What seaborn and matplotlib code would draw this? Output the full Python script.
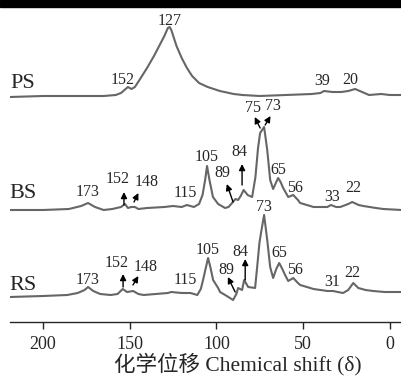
import numpy as np
import pandas as pd
import matplotlib
matplotlib.use("Agg")
import matplotlib.pyplot as plt
import seaborn as sns
from matplotlib.patches import Rectangle

# --- spectra (ppm, intensity above each baseline) ---
ps_ppm = [219, 200, 180, 165, 158, 155, 151, 149, 147, 144, 140, 136, 133, 130, 128,
          127, 126, 123, 120, 117, 114, 110, 105, 98, 90, 85, 75, 60, 45, 40, 38, 33, 28,
          24, 20, 16, 12, 5, 0, -7]
ps_int = [-1, 0, 0, 0, 1, 3, 9, 7, 9, 17, 28, 40, 50, 60, 68,
          69, 66, 50, 38, 28, 20, 13, 9, 5, 2, 1, 0, 1, 2, 3, 5, 4, 4,
          5, 7, 4, 1, 2, 1, 1]

bs_ppm = [219, 200, 185, 178, 174, 170, 165, 160, 155, 152.7, 151, 149, 147, 145, 140,
          130, 125, 120, 117, 113, 110, 108, 106.5, 105.4, 104, 102, 99, 95, 93, 90,
          89, 87.5, 86, 84.3, 82, 79.4, 77.5, 76, 74.8, 72.5, 70.7, 69, 67.3, 65.5,
          64.4, 63, 61.5, 58.6, 55.7, 53, 51.7, 44, 36, 34, 31, 28.6, 24, 21.7, 18,
          15.3, 8, 3.8, -7]
bs_int = [0, 0, 1, 4, 7, 3, 0, 1, 3, 6, 2, 3, 3, 1, 2,
          3, 4, 3, 5, 3, 6, 15, 30, 44, 30, 13, 6, 2, 3, 9,
          11, 10, 14, 20, 15, 13, 33, 62, 77, 83, 60, 30, 21, 28,
          32, 28, 22, 13, 15, 10, 7, 3, 3, 5, 3, 3, 6, 8, 5,
          4, 2, 1, 0]

rs_ppm = [219, 200, 186, 180, 176, 174, 171, 167, 161, 157, 154, 151.5, 148, 145, 142,
          135, 128, 126, 120, 115, 111, 109, 107.7, 106, 104.8, 103.5, 101.9, 99, 97.9,
          94, 90.4, 88.5, 87.5, 85.2, 84, 81.7, 77.7, 76.5, 75.2, 74.2, 72.5, 70.7, 69,
          67.3, 65.5, 63.8, 62, 60.4, 58.6, 55.7, 53, 51.7, 44, 36, 32.7, 30, 27, 24,
          21.1, 18.2, 14, 9.6, 3, -7]
rs_int = [0, 1, 2, 4, 7, 10, 6, 3, 2, 3, 8, 5, 6, 3, 2,
          3, 4, 5, 4, 4, 2, 8, 17, 30, 39, 30, 17, 9, 5,
          1, -3, 3, 9, 7, 17, 10, 9, 30, 54, 65, 82, 57, 30,
          19, 28, 34, 28, 22, 16, 19, 14, 12, 8, 6, 6, 5, 4, 7,
          14, 9, 7, 6, 5, 5]

samples = ["PS", "BS", "RS"]
offsets = [226, 112, 25]

# peak labels: (text, ppm, y)
ps_labels = [("127", 126.7, 301), ("152", 153.8, 242), ("39", 39.0, 241), ("20", 22.9, 242)]
bs_labels = [("173", 174.0, 130), ("152", 156.7, 143), ("148", 140.0, 140), ("115", 118.1, 129),
             ("105", 105.9, 165), ("89", 96.7, 149), ("84", 86.9, 170), ("75", 78.8, 214),
             ("73", 67.3, 216), ("65", 64.4, 152), ("56", 54.6, 134), ("33", 33.2, 125),
             ("22", 21.1, 134)]
rs_labels = [("173", 174.0, 42), ("152", 157.3, 59), ("148", 140.6, 55), ("115", 118.1, 42),
             ("105", 104.8, 72), ("89", 94.4, 52), ("84", 86.3, 70), ("73", 72.5, 115),
             ("65", 63.8, 69), ("56", 54.6, 52), ("31", 33.2, 40), ("22", 21.7, 49)]

# arrows: (tail ppm, tail y, head ppm, head y)
arrows = [(153.3, 117, 153.3, 130), (147.5, 120, 145.0, 129), (90.4, 120, 94.0, 138),
          (85.2, 137, 85.2, 158), (74.8, 194, 77.9, 205), (71.9, 197, 68.8, 206),
          (153.8, 35, 153.8, 48), (148.1, 37, 145.0, 46), (89.2, 30, 93.4, 45),
          (83.4, 42, 83.4, 63)]

sns.set_style("ticks")
plt.rcParams['font.family'] = ['Liberation Serif', 'Noto Sans CJK SC']

fig = plt.figure(figsize=(4.02, 3.76), dpi=100)
ax = fig.add_axes([10 / 402, 54 / 376, 392 / 402, 317 / 376])

traces = [(ps_ppm, ps_int), (bs_ppm, bs_int), (rs_ppm, rs_int)]
for (xs, ys), off in zip(traces, offsets):
    df = pd.DataFrame({"ppm": xs, "y": np.array(ys) + off})
    sns.lineplot(data=df, x="ppm", y="y", ax=ax, color="#666666", lw=1.5, sort=False)

for lab, yoff in zip(samples, [238, 128, 36]):
    ax.text(211.5, yoff, lab, fontsize=16, ha="center", va="center")

for txt, x, y in ps_labels + bs_labels + rs_labels:
    ax.text(x, y, txt, fontsize=11.5, ha="center", va="center")

for x0, y0, x1, y1 in arrows:
    ax.annotate("", xy=(x1, y1), xytext=(x0, y0),
                arrowprops=dict(arrowstyle="-|>", color="black", lw=1.0, mutation_scale=9,
                                shrinkA=0, shrinkB=0))

ax.set_xlim(219, -7)
ax.set_ylim(0, 317)
ax.set_xticks([200, 150, 100, 50, 0])
ax.set_yticks([])
ax.tick_params(axis="x", direction="out", length=5, width=1, labelsize=13, pad=5)
for s in ["left", "right", "top"]:
    ax.spines[s].set_visible(False)
ax.spines["bottom"].set_linewidth(1.0)
ax.set_xlabel("化学位移 Chemical shift (δ)", fontsize=15.5)
ax.xaxis.set_label_coords((238 - 10) / 392, -48 / 317)
ax.xaxis.label.set_va("baseline")
ax.set_ylabel("")

# thick rule along the top edge
fig.patches.append(Rectangle((0, 369 / 376), 1, 7 / 376, transform=fig.transFigure,
                             color="black", zorder=5))

fig.savefig("out.png", dpi=100)
